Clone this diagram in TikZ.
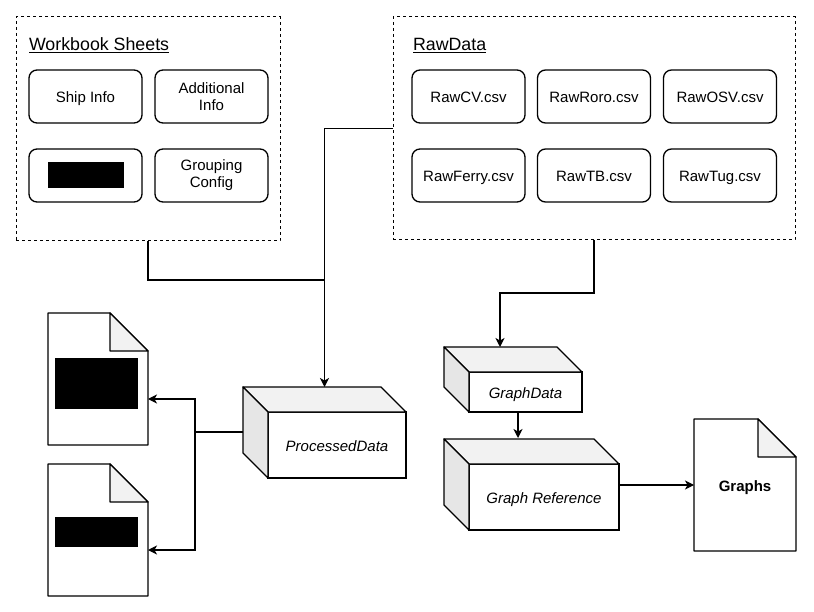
\documentclass[tikz,border=0pt]{standalone}
\usepackage{fontspec}
\setmainfont{Liberation Sans}
\usetikzlibrary{arrows.meta,calc}
\definecolor{topgray}{HTML}{F2F2F2}
\definecolor{sidegray}{HTML}{E6E6E6}
\newcommand\drawcubeof[1]{%
  \filldraw[line width=1.3pt, fill=topgray, line join=round] (#1.north west) -- ++(-25,-25) -- ($(#1.north east)+(-25,-25)$) -- (#1.north east) -- cycle;
  \filldraw[line width=1.3pt, fill=sidegray, line join=round] (#1.north west) -- ++(-25,-25) -- ($(#1.south west)+(-25,-25)$) -- (#1.south west) -- cycle;}
\newcommand\drawdocof[1]{%
  \draw[line width=1.3pt, line join=round] (#1.north west) -- ($(#1.north east)+(-38,0)$) -- ($(#1.north east)+(0,38)$) -- (#1.south east) -- (#1.south west) -- cycle;
  \filldraw[line width=1.3pt, fill=topgray, line join=round] ($(#1.north east)+(-38,0)$) -- ++(0,38) -- ++(38,0) -- cycle;}
\begin{document}
\begin{tikzpicture}[x=1pt,y=-1pt,
  every node/.style={font=\fontsize{15}{17}\selectfont, outer sep=0pt, inner sep=0pt},
  oneline/.style={text height=12.5pt, text depth=0pt},
  group/.style={draw, dash pattern=on 3pt off 3pt, line width=1pt},
  rbox/.style={draw, line width=1.3pt, rounded corners=8pt, minimum width=113pt, minimum height=53pt, align=center, fill=white},
  face/.style={draw, line width=1.3pt, fill=white, oneline, font=\fontsize{15}{17}\selectfont\itshape},
  docbox/.style={minimum width=100pt, minimum height=132pt},
  redact/.style={fill=black},
  title/.style={anchor=base west, font=\fontsize{17.8}{20}\selectfont},
  con/.style={line width=1.2pt},
  arr/.style={line width=1.2pt, -{Stealth[length=9pt,width=9pt,inset=2.5pt]}},
]
\useasboundingbox (0,0) rectangle (814,612);

% Workbook Sheets group
\node[group, minimum width=264pt, minimum height=224pt] (wb) at (148,129) {};
\node[title] (wbt) at (29,51) {\underline{Workbook Sheets}};
\node[rbox, oneline] (ship) at (85.5,96.5) {Ship Info};
\node[rbox] (addi) at (211.5,96.5) {Additional\\Info};
\node[rbox] (hid) at (85.5,175.5) {};
\node[redact, minimum width=76pt, minimum height=26pt] (red3) at (86,175) {};
\node[rbox] (grp) at (211.5,175.5) {Grouping\\Config};

% RawData group
\node[group, minimum width=402pt, minimum height=223pt] (raw) at (594,128.5) {};
\node[title] (rawt) at (413,50.5) {\underline{RawData}};
\node[rbox, oneline] (cv) at (468.5,96.5) {RawCV.csv};
\node[rbox, oneline] (roro) at (594,96.5) {RawRoro.csv};
\node[rbox, oneline] (osv) at (720,96.5) {RawOSV.csv};
\node[rbox, oneline] (ferry) at (468.5,175.5) {RawFerry.csv};
\node[rbox, oneline] (tb) at (594,175.5) {RawTB.csv};
\node[rbox, oneline] (tug) at (720,175.5) {RawTug.csv};

% Cubes
\node[face, minimum width=138pt, minimum height=66pt] (pdf) at (337,445) {ProcessedData};
\drawcubeof{pdf}
\node[face, minimum width=113pt, minimum height=40pt] (gdf) at (525.5,392) {GraphData};
\drawcubeof{gdf}
\node[face, minimum width=150pt, minimum height=66pt] (grf) at (544,497) {Graph Reference};
\drawcubeof{grf}

% Documents
\node[docbox] (doc1) at (98,379) {};
\drawdocof{doc1}
\node[redact, minimum width=83pt, minimum height=51pt] (red1) at (96.5,383.5) {};
\node[docbox] (doc2) at (98,530) {};
\drawdocof{doc2}
\node[redact, minimum width=83pt, minimum height=30pt] (red2) at (96.5,532) {};
\node[docbox, oneline, minimum width=102pt, font=\fontsize{15}{17}\selectfont\bfseries] (graphs) at (745,485) {Graphs};
\drawdocof{graphs}

% Connectors
\coordinate (pdtop) at ($(pdf.north)+(-12.5,-25)$);
\coordinate (j1) at (324.5,280);
\draw[con] (wb.south) |- (j1);
\draw[arr] (raw.west) -| (pdtop);
\coordinate (gdtop) at ($(gdf.north west)+(31,-25)$);
\draw[arr] (raw.south) -- ++(0,53) -| (gdtop);
\draw[arr] ($(gdf.south)+(-7.5,0)$) -- ($(gdf.south)+(-7.5,26)$);
\draw[arr] (grf.east |- graphs.west) -- (graphs.west);
\coordinate (pdl) at ($(pdf.west)+(-25,-13)$);
\coordinate (jx) at (195,432);
\draw[con] (pdl) -- (jx);
\draw[arr] (jx) |- ($(doc1.east)+(0,20)$);
\draw[arr] (jx) |- ($(doc2.east)+(0,20)$);
\end{tikzpicture}
\end{document}
